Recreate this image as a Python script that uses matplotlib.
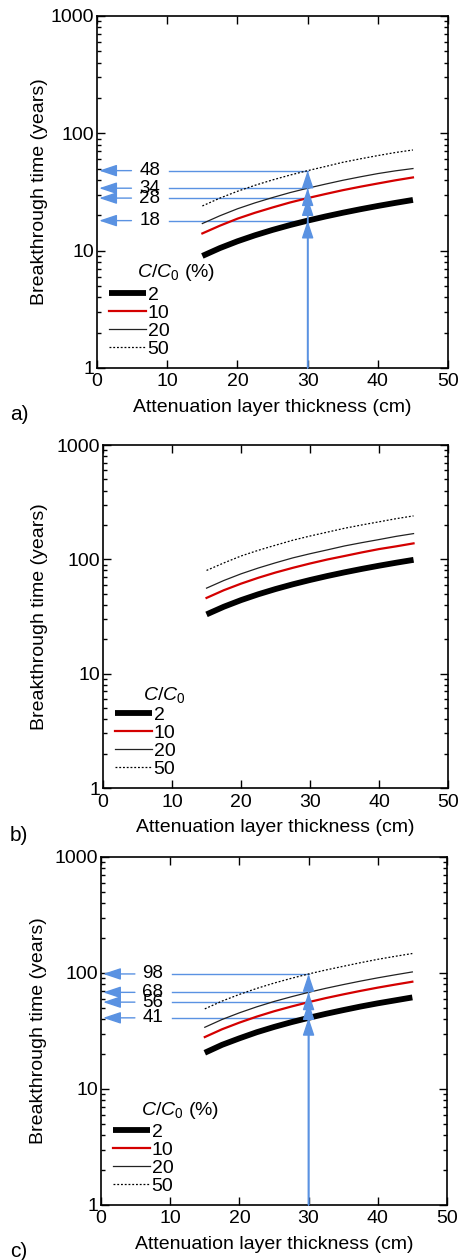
import matplotlib
matplotlib.use("Agg")
import matplotlib.pyplot as plt
from matplotlib.lines import Line2D

plt.rcParams["font.family"] = ["Liberation Sans", "DejaVu Sans"]
plt.rcParams["mathtext.fontset"] = "custom"
plt.rcParams["mathtext.it"] = "Liberation Sans:italic"
plt.rcParams["mathtext.rm"] = "Liberation Sans"

# thickness (cm) where the curves were read
x_cm = [15, 17.5, 20, 22.5, 25, 27.5, 30, 32.5, 35, 37.5, 40, 42.5, 45]

# breakthrough time (years)
a_2 = [9, 10.5, 12, 13.5, 15, 16.5, 18, 19.5, 21, 22.5, 24, 25.5, 27]
a_10 = [14, 16.3, 18.7, 21, 23.3, 25.7, 28, 30.3, 32.7, 35, 37.3, 39.7, 42]
a_20 = [17, 19.8, 22.7, 25.5, 28.3, 31.2, 34, 36.8, 39.7, 42.5, 45.3, 47.8, 50]
a_50 = [24, 28, 32, 36, 40, 44, 48, 52, 56.5, 60.5, 64.5, 68.5, 72]

b_2 = [33, 38.5, 44, 49.5, 55, 60.5, 66, 71.5, 77, 82.5, 88, 93.5, 99]
b_10 = [46, 53.7, 61.3, 69, 76.7, 84.3, 92, 99.7, 107, 115, 123, 130, 138]
b_20 = [56, 65.3, 74.7, 84, 93.3, 103, 112, 121, 131, 140, 149, 159, 168]
b_50 = [80, 93, 107, 120, 133, 147, 160, 173, 187, 200, 213, 227, 240]

c_2 = [20.5, 24, 27.3, 30.8, 34.2, 37.6, 41, 44.4, 47.8, 51.3, 54.7, 58, 61.5]
c_10 = [28, 32.7, 37.3, 42, 46.7, 51.3, 56, 60.7, 65.3, 70, 74.7, 79.3, 84]
c_20 = [34, 39.7, 45.3, 51, 56.7, 62.3, 68, 73.7, 79.3, 85, 90.7, 96.3, 102]
c_50 = [49, 57.2, 65.3, 73.5, 81.7, 89.8, 98, 106, 114, 122.5, 131, 139, 147]

ratios = ["2", "10", "20", "50"]
x_read = 30
a_marks = [18, 28, 34, 48]
c_marks = [41, 56, 68, 98]

x_ticks = [0, 10, 20, 30, 40, 50]
y_ticks = [1, 10, 100, 1000]
y_labels = ["1", "10", "100", "1000"]

styles = [
    dict(color="black", lw=4.2, ls="-", solid_capstyle="butt"),
    dict(color="#d40000", lw=1.6, ls="-"),
    dict(color="#222222", lw=0.9, ls="-"),
    dict(color="black", lw=0.9, ls=(0, (1.5, 1.5))),
]
blue_line = "#5a92e2"
head = "-|>,head_length=0.9,head_width=0.3"
fs = 14

fig = plt.figure(figsize=(4.6, 12.6), dpi=100)
boxes = [
    [0.211, 0.708, 0.763, 0.2794],
    [0.224, 0.3746, 0.750, 0.2722],
    [0.2196, 0.0437, 0.752, 0.2762],
]
ylabel_x = [-0.14, -0.16, -0.156]
panels = [
    ([a_2, a_10, a_20, a_50], a_marks, "$C/C_0$ (%)", "a)"),
    ([b_2, b_10, b_20, b_50], None, "$C/C_0$", "b)"),
    ([c_2, c_10, c_20, c_50], c_marks, "$C/C_0$ (%)", "c)"),
]

for box, lx, (series, marks, ltitle, tag) in zip(boxes, ylabel_x, panels):
    ax = fig.add_axes(box)
    ax.set_yscale("log")
    ax.set_xlim(0, 50)
    ax.set_ylim(1, 1000)

    if marks is not None:
        for v in marks:
            # horizontal read-off line, broken around the value label
            ax.plot([x_read, 10.2], [v, v], color=blue_line, lw=1.0)
            ax.annotate("", xy=(0.3, v), xytext=(4.9, v),
                        arrowprops=dict(arrowstyle=head, color=blue_line, lw=1.0,
                                        shrinkA=0, shrinkB=0, mutation_scale=12))
            ax.annotate("", xy=(x_read, v), xytext=(x_read, 1),
                        arrowprops=dict(arrowstyle=head, color=blue_line, lw=1.0,
                                        shrinkA=0, shrinkB=0, mutation_scale=12))
            ax.text(7.5, v, str(v), ha="center", va="center", fontsize=fs - 0.5)

    for ys, st in zip(series, styles):
        ax.plot(x_cm, ys, **st)

    handles = [Line2D([], [], **st) for st in styles]
    ax.legend(handles, ratios, loc="lower left", frameon=False, fontsize=fs,
              handlelength=1.9, handletextpad=0.1, labelspacing=0.02,
              borderaxespad=0.2, bbox_to_anchor=(0.0, -0.005))
    ax.text(0.115, 0.272, ltitle, transform=ax.transAxes, fontsize=fs,
            ha="left", va="center")

    ax.set_xticks(x_ticks)
    ax.set_yticks(y_ticks)
    ax.set_yticklabels(y_labels)
    ax.tick_params(which="both", direction="in", top=True, right=True,
                   labelsize=fs, width=1)
    ax.tick_params(which="major", length=6)
    ax.tick_params(which="minor", length=3)
    ax.tick_params(axis="y", pad=2)
    ax.tick_params(axis="x", pad=4)
    for s in ax.spines.values():
        s.set_linewidth(1.2)
    ax.set_xlabel("Attenuation layer thickness (cm)", fontsize=fs, labelpad=6)
    ax.set_ylabel("Breakthrough time (years)", fontsize=fs)
    ax.yaxis.set_label_coords(lx, 0.5)

    fig.text(10 / 460, box[1] - 47 / 1260, tag, fontsize=fs + 1,
             ha="left", va="center")

fig.savefig("out.png", dpi=100)
